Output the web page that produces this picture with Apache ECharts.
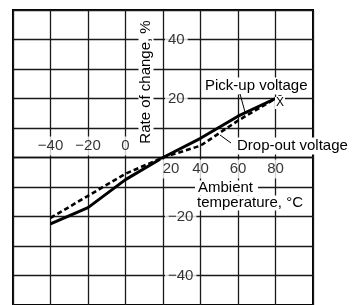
<!DOCTYPE html>
<html>
<head>
<meta charset="utf-8">
<script src="https://cdn.jsdelivr.net/npm/echarts@6/dist/echarts.min.js"></script>
<style>
  html, body { margin: 0; padding: 0; background: #fff; }
  #chart { width: 357px; height: 305px; }
</style>
</head>
<body>
<div id="chart"></div>
<script>
// ambient temperature, °C
const temps = [-40, -20, 0, 20, 40, 60, 80];
// rate of change, %
const pickUp = [-22.5, -17, -7.5, 0, 6.5, 14, 20];
const dropOut = [-20.5, -13, -5.5, 0, 4, 12.5, 20];

// tick labels drawn along the axes
const xTicks = [-40, -20, 0, 20, 40, 60, 80];
const yTicks = [40, 20, -20, -40];

const FONT = "Liberation Sans";
const fmt = (v) => (v < 0 ? "\u2212" + Math.abs(v) : String(v));

const chart = echarts.init(document.getElementById("chart"));

const tickLabel = {
  show: true,
  color: "#000",
  fontFamily: FONT,
  fontSize: 15,
  backgroundColor: "#fff",
};

const option = {
  animation: false,
  grid: {
    left: 13,
    right: 44,
    top: 10,
    bottom: -5,
    show: true,
    borderColor: "#000",
    borderWidth: 2,
  },
  xAxis: {
    type: "value",
    min: -60,
    max: 100,
    interval: 20,
    axisLine: { onZero: true, lineStyle: { color: "#111", width: 1.3 } },
    axisTick: { show: false },
    axisLabel: { show: false },
    splitLine: { show: true, lineStyle: { color: "#1a1a1a", width: 1.3 } },
  },
  yAxis: {
    type: "value",
    min: -50,
    max: 50,
    interval: 10,
    axisLine: { show: false },
    axisTick: { show: false },
    axisLabel: { show: false },
    splitLine: { show: true, lineStyle: { color: "#1a1a1a", width: 1.3 } },
  },
  series: [
    {
      name: "Pick-up voltage",
      type: "line",
      data: temps.map((t, i) => [t, pickUp[i]]),
      showSymbol: false,
      lineStyle: { color: "#000", width: 3 },
      z: 5,
    },
    {
      name: "Drop-out voltage",
      type: "line",
      data: temps.map((t, i) => [t, dropOut[i]]),
      showSymbol: false,
      lineStyle: { color: "#000", width: 2.6, type: [5, 3] },
      z: 4,
    },
    {
      // x tick labels: negatives above the axis, positives below
      type: "scatter",
      symbolSize: 0,
      silent: true,
      z: 6,
      data: xTicks.map((v) => ({
        value: [v, 0],
        label: Object.assign({}, tickLabel, {
          formatter: fmt(v),
          position: v <= 0 ? "top" : "bottom",
          distance: 2,
          padding: [2, 2, 2, 2],
          offset: v === 20 ? [8, 0] : [0, 0],
        }),
      })),
    },
    {
      // y tick labels, along the vertical line at 20 °C
      type: "scatter",
      symbolSize: 0,
      silent: true,
      z: 6,
      data: yTicks.map((v) => ({
        value: [20, v],
        label: Object.assign({}, tickLabel, {
          formatter: fmt(v),
          position: "right",
          distance: 2,
          padding: [0, 3, 0, 3],
        }),
      })),
    },
  ],
};

chart.setOption(option);

// annotations
const txt = (text, x, y, extra, rot) => ({
  type: "text",
  x: x,
  y: y,
  rotation: rot || 0,
  z: 100,
  style: Object.assign(
    {
      text: text,
      fill: "#000",
      font: "15px " + FONT,
      verticalAlign: "middle",
      backgroundColor: "#fff",
      padding: [1, 2, 1, 2],
    },
    extra || {}
  ),
});
const leader = (x1, y1, x2, y2) => ({
  type: "line",
  z: 101,
  shape: { x1: x1, y1: y1, x2: x2, y2: y2 },
  style: { stroke: "#000", lineWidth: 1 },
});

chart.setOption({
  graphic: [
    txt("Rate of change, %", 146, 82, { align: "center", padding: [0, 3, 0, 3] }, Math.PI / 2),
    txt("Pick-up voltage", 203, 86),
    txt("Drop-out voltage", 235, 146),
    txt("X\u0304", 275, 103, { font: "12px " + FONT, padding: [0, 1, 0, 1] }),
    txt("Ambient", 195, 188, { padding: [0, 5, 0, 3] }),
    txt("temperature, °C", 195, 203, { padding: [0, 2, 0, 2] }),
    leader(240, 94, 245, 112),
    leader(231, 143, 220, 135),
  ],
});

window.onresize = function () {
  chart.resize();
};
</script>
</body>
</html>
